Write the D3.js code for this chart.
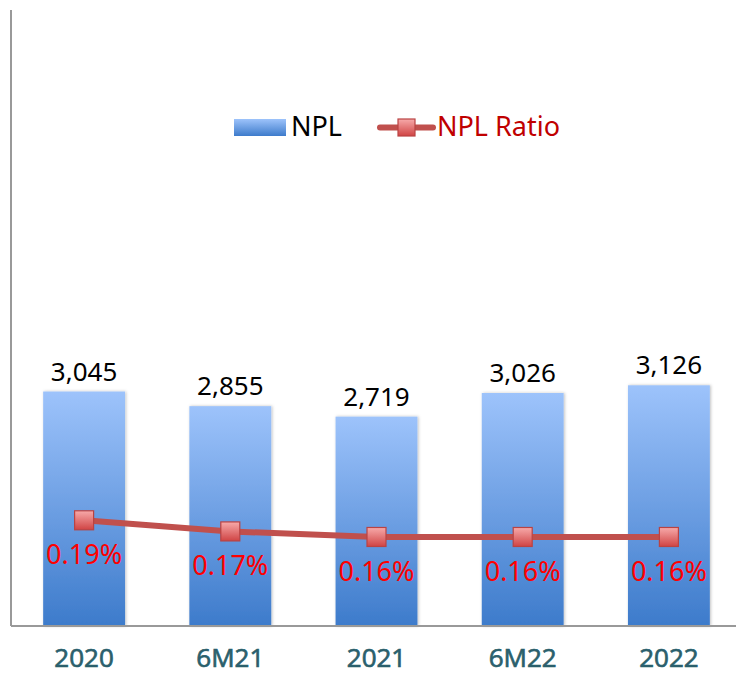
<!DOCTYPE html>
<html lang="en">
<meta charset="utf-8">
<style>
body { margin: 0; background: #fff; }
svg text { font-family: "Noto Sans", "Open Sans", sans-serif; }
.npl-label { font-size: 26px; fill: #000; }
.ratio-label { font-size: 27px; fill: #ff0000; }
.cat-label { font-family: "Open Sans", sans-serif; font-size: 26px; fill: #2a5f6c; stroke: #2a5f6c; stroke-width: 0.7px; }
</style>
<body>
<div id="chart"></div>
<script src="https://d3js.org/d3.v7.min.js"></script>
<script>
"use strict";

// data
const categories = ["2020", "6M21", "2021", "6M22", "2022"];
const npl = [3045, 2855, 2719, 3026, 3126];
const nplRatio = [0.0019, 0.0017, 0.0016, 0.0016, 0.0016];

const W = 736, H = 676;
const plot = {left: 11, right: 742, top: 10, bottom: 626};

const svg = d3.select("#chart").append("svg")
  .attr("width", W)
  .attr("height", H);

const defs = svg.append("defs");
const barGrad = defs.append("linearGradient")
  .attr("id", "barGrad").attr("x1", 0).attr("y1", 0).attr("x2", 0).attr("y2", 1);
barGrad.append("stop").attr("offset", "0%").attr("stop-color", "#9dc3fb");
barGrad.append("stop").attr("offset", "100%").attr("stop-color", "#3d7bcb");

const mkGrad = defs.append("linearGradient")
  .attr("id", "mkGrad").attr("x1", 0).attr("y1", 0).attr("x2", 0).attr("y2", 1);
mkGrad.append("stop").attr("offset", "0%").attr("stop-color", "#f7aaaa");
mkGrad.append("stop").attr("offset", "100%").attr("stop-color", "#d04444");

const shadow = defs.append("filter").attr("id", "shadow")
  .attr("x", "-20%").attr("y", "-5%").attr("width", "140%").attr("height", "110%");
shadow.append("feDropShadow").attr("dx", 1).attr("dy", 0)
  .attr("stdDeviation", 1.5).attr("flood-color", "#000").attr("flood-opacity", 0.25);

// scales
const x = d3.scaleBand()
  .domain(categories)
  .range([plot.left, plot.right])
  .paddingInner(0.44)
  .paddingOuter(0.22);

const y = d3.scaleLinear()
  .domain([0, 8000])
  .range([plot.bottom, plot.top]);

const y2 = d3.scaleLinear()
  .domain([0, 0.011])
  .range([plot.bottom, 14]);

// bars
svg.append("g").selectAll("rect")
  .data(npl)
  .join("rect")
  .attr("x", (d, i) => x(categories[i]))
  .attr("y", d => y(d))
  .attr("width", x.bandwidth())
  .attr("height", d => y(0) - y(d))
  .attr("fill", "url(#barGrad)")
  .attr("filter", "url(#shadow)");

// axes lines
svg.append("line")
  .attr("x1", plot.left).attr("x2", plot.left)
  .attr("y1", plot.top).attr("y2", plot.bottom)
  .attr("stroke", "#999").attr("stroke-width", 2);
svg.append("line")
  .attr("x1", plot.left).attr("x2", W)
  .attr("y1", plot.bottom).attr("y2", plot.bottom)
  .attr("stroke", "#999").attr("stroke-width", 2);

// NPL value labels
svg.append("g").selectAll("text")
  .data(npl)
  .join("text")
  .attr("class", "npl-label")
  .attr("x", (d, i) => x(categories[i]) + x.bandwidth() / 2)
  .attr("y", d => y(d) - 11)
  .attr("text-anchor", "middle")
  .text(d3.format(","));

// ratio line
const cx = (d, i) => x(categories[i]) + x.bandwidth() / 2;
svg.append("path")
  .datum(nplRatio)
  .attr("d", d3.line().x(cx).y(d => y2(d)))
  .attr("fill", "none")
  .attr("stroke", "#c0504d")
  .attr("stroke-width", 6)
  .attr("stroke-linecap", "round");

svg.append("g").selectAll("rect")
  .data(nplRatio)
  .join("rect")
  .attr("x", (d, i) => cx(d, i) - 9.5)
  .attr("y", d => y2(d) - 9.5)
  .attr("width", 19).attr("height", 19)
  .attr("fill", "url(#mkGrad)")
  .attr("stroke", "#b94343").attr("stroke-width", 1.2);

// ratio labels
svg.append("g").selectAll("text")
  .data(nplRatio)
  .join("text")
  .attr("class", "ratio-label")
  .attr("x", cx)
  .attr("y", d => y2(d) + 44)
  .attr("text-anchor", "middle")
  .text(d3.format(".2%"));

// category labels
svg.append("g").selectAll("text")
  .data(categories)
  .join("text")
  .attr("class", "cat-label")
  .attr("x", d => x(d) + x.bandwidth() / 2)
  .attr("y", 667)
  .attr("text-anchor", "middle")
  .text(d => d);

// legend
const lg = svg.append("g");
lg.append("rect")
  .attr("x", 234).attr("y", 119).attr("width", 52).attr("height", 17)
  .attr("fill", "url(#barGrad)");
lg.append("text")
  .attr("x", 291).attr("y", 136)
  .style("font-size", "27px").attr("fill", "#000")
  .text("NPL");
lg.append("line")
  .attr("x1", 380).attr("x2", 433).attr("y1", 127.5).attr("y2", 127.5)
  .attr("stroke", "#c0504d").attr("stroke-width", 6).attr("stroke-linecap", "round");
lg.append("rect")
  .attr("x", 398).attr("y", 119).attr("width", 17).attr("height", 17)
  .attr("fill", "url(#mkGrad)").attr("stroke", "#b94343").attr("stroke-width", 1.2);
lg.append("text")
  .attr("x", 437).attr("y", 136)
  .style("font-size", "27px").attr("fill", "#c00000")
  .text("NPL Ratio");
</script>
</body>
</html>
